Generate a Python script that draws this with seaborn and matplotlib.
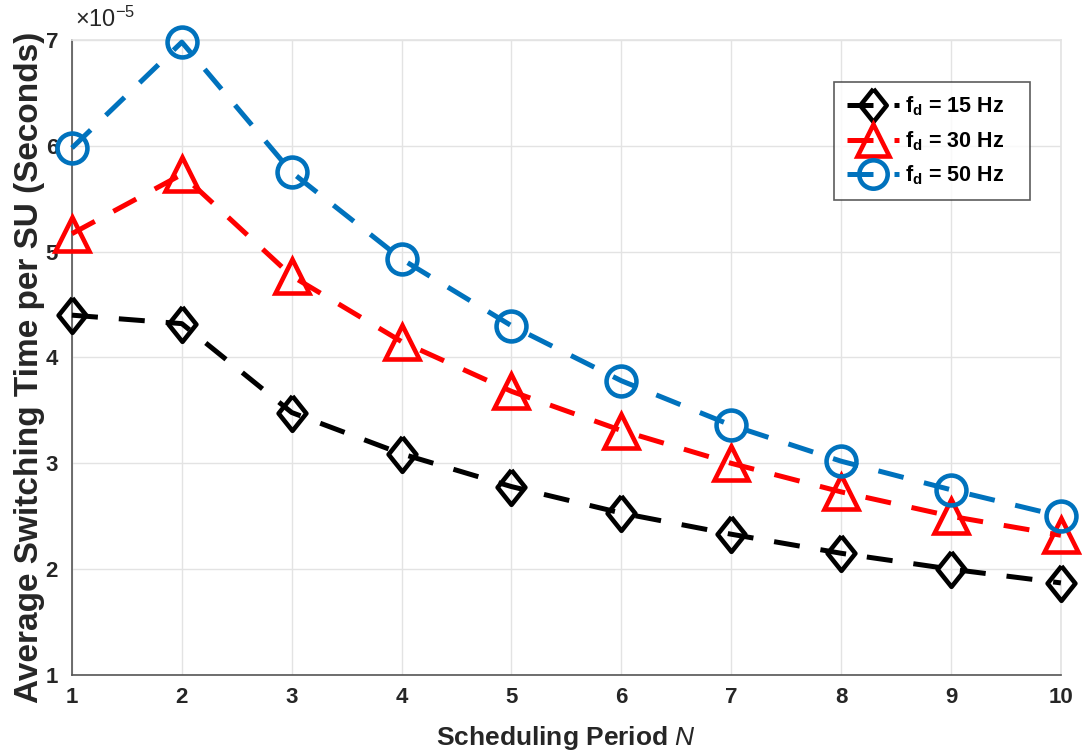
import numpy as np
import pandas as pd
import seaborn as sns
import matplotlib.pyplot as plt

# Data (values in units of 1e-5 s)
periods = [1, 2, 3, 4, 5, 6, 7, 8, 9, 10]
fd15 = [4.40, 4.32, 3.48, 3.09, 2.78, 2.53, 2.33, 2.15, 2.00, 1.87]
fd30 = [5.17, 5.73, 4.77, 4.15, 3.68, 3.31, 3.00, 2.73, 2.50, 2.32]
fd50 = [5.98, 6.98, 5.75, 4.93, 4.30, 3.78, 3.36, 3.02, 2.75, 2.50]
labels = [r'$\mathbf{f_d}$ = 15 Hz', r'$\mathbf{f_d}$ = 30 Hz', r'$\mathbf{f_d}$ = 50 Hz']

sns.set_style('white')
plt.rcParams['font.family'] = ['Liberation Sans', 'DejaVu Sans']
plt.rcParams['mathtext.fontset'] = 'custom'
plt.rcParams['mathtext.rm'] = 'Liberation Sans'
plt.rcParams['mathtext.bf'] = 'Liberation Sans:bold'
plt.rcParams['mathtext.it'] = 'Liberation Sans:italic'

text_col = '#262626'
grid_col = '#e3e3e3'

# slightly narrow diamond like the MATLAB one
diamond = [(0, 1), (0.8, 0), (0, -1), (-0.8, 0), (0, 1)]

fig = plt.figure(figsize=(10.82, 7.55), dpi=100)
ax = fig.add_axes([0.0665, 0.106, 0.914, 0.841])

series = [(fd15, 'black', diamond, 25), (fd30, '#ff0000', '^', 24), (fd50, '#0072bd', 'o', 21.5)]
for lab, (vals, col, mk, ms) in zip(labels, series):
    df = pd.DataFrame({'N': periods, 'val': vals})
    sns.lineplot(data=df, x='N', y='val', ax=ax, color=col, linewidth=3.6,
                 linestyle=(0, (5.2, 4.2)), marker=mk, markersize=ms,
                 markerfacecolor='none', markeredgecolor=col, markeredgewidth=3.3,
                 label=lab, zorder=3, clip_on=False)

ax.set_xlim(1, 10)
ax.set_ylim(1, 7)
ax.set_xticks(np.arange(1, 11))
ax.set_yticks(np.arange(1, 8))
ax.grid(True, color=grid_col, linewidth=1)
ax.set_axisbelow(True)

for side in ['top', 'right']:
    ax.spines[side].set_color(grid_col)
    ax.spines[side].set_linewidth(1.2)
for side in ['left', 'bottom']:
    ax.spines[side].set_color('#555555')
    ax.spines[side].set_linewidth(1.2)

ax.tick_params(axis='both', which='both', direction='in', length=5, width=1,
               color='#555555', labelsize=16, labelcolor=text_col)
ax.tick_params(axis='x', pad=9)
ax.tick_params(axis='y', pad=10)
for t in ax.get_xticklabels() + ax.get_yticklabels():
    t.set_fontweight('bold')

ax.set_xlabel(r'Scheduling Period $\mathbf{\it{N}}$', fontsize=19, fontweight='bold',
              color=text_col, labelpad=11)
ax.set_ylabel('Average Switching Time per SU (Seconds)', fontsize=24, fontweight='bold',
              color=text_col)
ax.yaxis.set_label_coords(-0.027, 0.485)
ax.text(0.003, 1.012, r'$\times10^{-5}$', transform=ax.transAxes, fontsize=17,
        color=text_col, ha='left', va='bottom')

leg = ax.legend(loc='upper left', bbox_to_anchor=(0.7705, 0.70, 0.198, 0.234),
                mode='expand', borderaxespad=0,
                fontsize=15.5, frameon=True, fancybox=False, edgecolor='#333333',
                handlelength=2.4, borderpad=0.6, labelspacing=0.5,
                handletextpad=0.3, markerscale=0.95)
leg.get_frame().set_linewidth(1.2)
for t in leg.get_texts():
    t.set_fontweight('bold')
    t.set_color('black')

fig.savefig('out.png', dpi=100)
